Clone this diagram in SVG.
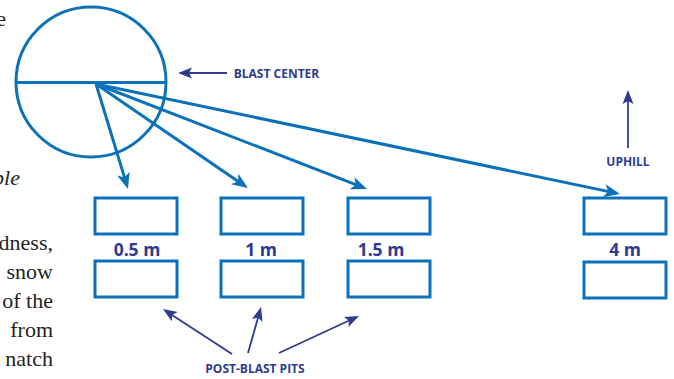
<svg xmlns="http://www.w3.org/2000/svg" width="674" height="379" viewBox="0 0 674 379">
<defs>
<style>
.blue{stroke:#0b72b9;stroke-width:3;fill:none}
.navy{stroke:#2e3b8f;stroke-width:1.8;fill:none}
.pit{stroke:#0b72b9;stroke-width:3;fill:#fff}
.lbl{font-family:"Open Sans","Liberation Sans",sans-serif;font-weight:bold;fill:#2e3b8f;text-anchor:middle}
.dist{font-size:17.5px}
.cap{font-size:12px}
.body{font-family:"Liberation Serif","DejaVu Serif",serif;font-size:22px;fill:#231f20;text-anchor:end}
</style>
<marker id="ab" markerUnits="userSpaceOnUse" markerWidth="20" markerHeight="20" viewBox="-8 -8 20 16" refX="0" refY="0" orient="auto">
<path d="M10,0 L-6,-6.5 L-2,0 L-6,6.5 Z" fill="#0b72b9"/>
</marker>
<marker id="an" markerUnits="userSpaceOnUse" markerWidth="20" markerHeight="20" viewBox="-8 -8 20 16" refX="0" refY="0" orient="auto">
<path d="M9,0 L-5,-5.5 L-2,0 L-5,5.5 Z" fill="#2e3b8f"/>
</marker>
</defs>
<rect width="674" height="379" fill="#fff"/>
<g id="page-text">
<text class="body" x="6" y="26">e</text>
<text class="body" x="20" y="185" font-style="italic">ble</text>
<text class="body" x="53" y="250">dness,</text>
<text class="body" x="53" y="279">snow</text>
<text class="body" x="53" y="308">of the</text>
<text class="body" x="53" y="337">from</text>
<text class="body" x="53" y="366">natch</text>
</g>
<g id="blast-center">
<circle class="blue" cx="91" cy="82" r="75"/>
<line class="blue" x1="16" y1="82.5" x2="166" y2="82.5"/>
</g>
<g id="pit-0-5">
<rect class="pit" x="95" y="198" width="82" height="36"/>
<rect class="pit" x="95" y="261" width="82" height="36"/>
<text class="lbl dist" x="137" y="256">0.5 m</text>
</g>
<g id="pit-1">
<rect class="pit" x="221" y="198" width="82" height="36"/>
<rect class="pit" x="221" y="261" width="82" height="36"/>
<text class="lbl dist" x="261" y="256">1 m</text>
</g>
<g id="pit-1-5">
<rect class="pit" x="348" y="198" width="82" height="36"/>
<rect class="pit" x="348" y="261" width="82" height="36"/>
<text class="lbl dist" x="381" y="256">1.5 m</text>
</g>
<g id="pit-4">
<rect class="pit" x="584" y="198" width="82" height="36"/>
<rect class="pit" x="584" y="262" width="82" height="36"/>
<text class="lbl dist" x="625" y="256">4 m</text>
</g>
<g id="label-blast-center">
<text class="lbl cap" x="276.5" y="78">BLAST CENTER</text>
</g>
<g id="label-uphill">
<text class="lbl cap" x="628" y="166">UPHILL</text>
</g>
<g id="label-post-blast-pits">
<text class="lbl cap" x="255" y="373" font-size="13px">POST-BLAST PITS</text>
</g>
<g id="connectors">
<line class="blue" x1="96" y1="84" x2="125.1" y2="179.4" marker-end="url(#ab)"/>
<line class="blue" x1="96" y1="84" x2="239.7" y2="182.4" marker-end="url(#ab)"/>
<line class="blue" x1="96" y1="84" x2="357.7" y2="185.4" marker-end="url(#ab)"/>
<line class="blue" x1="96" y1="84" x2="610.2" y2="191.9" marker-end="url(#ab)"/>
<line class="navy" x1="227" y1="73" x2="187" y2="73" marker-end="url(#an)"/>
<line class="navy" x1="628" y1="148" x2="628" y2="99" marker-end="url(#an)"/>
<line class="navy" x1="232" y1="354" x2="170.5" y2="313.9" marker-end="url(#an)"/>
<line class="navy" x1="248" y1="353" x2="258.6" y2="315.7" marker-end="url(#an)"/>
<line class="navy" x1="279" y1="353" x2="350.8" y2="319.8" marker-end="url(#an)"/>
</g>
</svg>
